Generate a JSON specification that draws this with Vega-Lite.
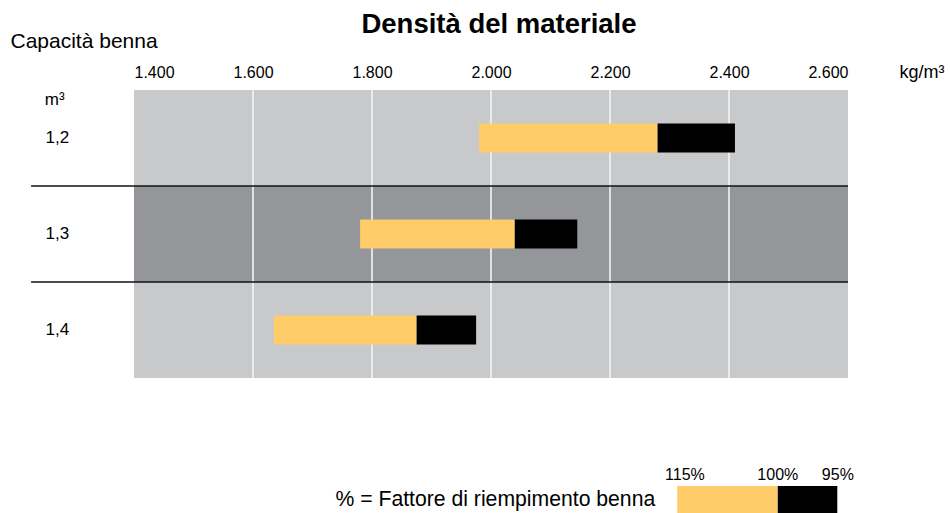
{
  "$schema": "https://vega.github.io/schema/vega-lite/v6.json",
  "padding": {"left": 10, "top": 10, "right": 5, "bottom": 0},
  "background": "white",
  "bounds": "flush",
  "spacing": 108,
  "resolve": {"scale": {"x": "independent", "y": "independent", "color": "independent"}},
  "config": {
    "font": "Liberation Sans",
    "view": {"stroke": null},
    "axisX": {
      "labelFont": "Liberation Sans", "labelFontSize": 16, "labelColor": "#000",
      "labelPadding": 13, "labelBaseline": "alphabetic", "ticks": false, "domain": false, "grid": false,
      "titleX": 765, "titleY": -13, "titleAlign": "left", "titleBaseline": "alphabetic",
      "titleFontSize": 18, "titleFontWeight": "normal", "titleColor": "#000", "titleFont": "Liberation Sans"
    },
    "axisY": {
      "labelFont": "Liberation Sans", "labelFontSize": 17, "labelColor": "#000",
      "labelAlign": "left", "labelBaseline": "alphabetic", "labelPadding": 89, "labelOffset": 5.3,
      "ticks": false, "domain": false, "grid": false,
      "titleAngle": 0, "titleX": -124, "titleY": -43, "titleAlign": "left", "titleBaseline": "alphabetic",
      "titleFontSize": 21, "titleFontWeight": "normal", "titleColor": "#000", "titleFont": "Liberation Sans"
    }
  },
  "datasets": {
    "rows": [
      {"cap": "1,2", "d115": 1980, "d100": 2280, "d95": 2410},
      {"cap": "1,3", "d115": 1780, "d100": 2040, "d95": 2145},
      {"cap": "1,4", "d115": 1635, "d100": 1875, "d95": 1975}
    ]
  },
  "vconcat": [
    {
      "width": 714,
      "height": 288,
      "title": {"text": "Densità del materiale", "font": "Liberation Sans", "fontSize": 27.5, "fontWeight": "bold", "color": "#000", "anchor": "middle", "dx": 8, "baseline": "alphabetic", "offset": -30},
      "data": {"name": "rows"},
      "layer": [
        {
          "mark": {"type": "rect"},
          "encoding": {
            "y": {"field": "cap", "type": "nominal", "title": "Capacità benna", "scale": {"paddingInner": 0, "paddingOuter": 0}},
            "x": {"datum": 1400, "type": "quantitative", "title": "kg/m³",
                  "scale": {"domain": [1400, 2600], "nice": false, "zero": false},
                  "axis": {"orient": "top", "values": [1400, 1600, 1800, 2000, 2200, 2400, 2600], "labelExpr": "replace(format(datum.value, ','), ',', '.')"}},
            "x2": {"datum": 2600},
            "color": {"field": "cap", "type": "nominal", "scale": {"range": ["#c8c9cb", "#959699", "#c8c9cb"]}, "legend": null}
          }
        },
        {
          "data": {"values": [{"v": 1600}, {"v": 1800}, {"v": 2000}, {"v": 2200}, {"v": 2400}]},
          "mark": {"type": "rule", "color": "#f4f4f4", "strokeWidth": 1.6},
          "encoding": {"x": {"field": "v", "type": "quantitative", "title": "kg/m³"}}
        },
        {
          "transform": [{"filter": "datum.cap != '1,2'"}],
          "mark": {"type": "rule", "color": "#111111", "strokeWidth": 1.5, "clip": false},
          "encoding": {
            "y": {"field": "cap", "type": "nominal", "bandPosition": 0, "title": "Capacità benna"},
            "x": {"datum": 1227, "type": "quantitative", "title": "kg/m³"},
            "x2": {"datum": 2600}
          }
        },
        {
          "mark": {"type": "bar", "color": "#fecd6a", "height": {"band": 0.3}},
          "encoding": {
            "y": {"field": "cap", "type": "nominal", "title": "Capacità benna"},
            "x": {"field": "d115", "type": "quantitative", "title": "kg/m³"},
            "x2": {"field": "d100"}
          }
        },
        {
          "mark": {"type": "bar", "color": "#000000", "height": {"band": 0.3}},
          "encoding": {
            "y": {"field": "cap", "type": "nominal", "title": "Capacità benna"},
            "x": {"field": "d100", "type": "quantitative", "title": "kg/m³"},
            "x2": {"field": "d95"}
          }
        },
        {
          "data": {"values": [{"u": "m³"}]},
          "mark": {"type": "text", "align": "left", "baseline": "alphabetic", "dy": 15, "font": "Liberation Sans", "fontSize": 17, "color": "#000"},
          "encoding": {
            "x": {"datum": 1250, "type": "quantitative", "title": "kg/m³"},
            "y": {"datum": "1,2", "type": "nominal", "bandPosition": 0, "title": "Capacità benna"},
            "text": {"field": "u"}
          }
        }
      ]
    },
    {
      "width": 714,
      "height": 28,
      "data": {"values": [{"k": 1}]},
      "layer": [
        {
          "mark": {"type": "rect", "color": "#fecd6a"},
          "encoding": {
            "x": {"datum": 2313, "type": "quantitative", "scale": {"domain": [1400, 2600], "nice": false, "zero": false}, "axis": null},
            "x2": {"datum": 2482},
            "y": {"datum": 0, "type": "quantitative", "scale": {"domain": [0, 1]}, "axis": null},
            "y2": {"datum": 1}
          }
        },
        {
          "mark": {"type": "rect", "color": "#000000"},
          "encoding": {
            "x": {"datum": 2482, "type": "quantitative"},
            "x2": {"datum": 2582},
            "y": {"datum": 0, "type": "quantitative"},
            "y2": {"datum": 1}
          }
        },
        {
          "mark": {"type": "text", "align": "right", "baseline": "middle", "font": "Liberation Sans", "fontSize": 21.2, "color": "#000"},
          "encoding": {
            "x": {"datum": 2276, "type": "quantitative"},
            "y": {"datum": 0.5, "type": "quantitative"},
            "text": {"value": "% = Fattore di riempimento benna"}
          }
        },
        {
          "mark": {"type": "text", "align": "center", "baseline": "alphabetic", "dy": -6, "font": "Liberation Sans", "fontSize": 16, "color": "#000"},
          "encoding": {
            "x": {"datum": 2326, "type": "quantitative"},
            "y": {"datum": 1, "type": "quantitative"},
            "text": {"value": "115%"}
          }
        },
        {
          "mark": {"type": "text", "align": "center", "baseline": "alphabetic", "dy": -6, "font": "Liberation Sans", "fontSize": 16, "color": "#000"},
          "encoding": {
            "x": {"datum": 2482, "type": "quantitative"},
            "y": {"datum": 1, "type": "quantitative"},
            "text": {"value": "100%"}
          }
        },
        {
          "mark": {"type": "text", "align": "center", "baseline": "alphabetic", "dy": -6, "font": "Liberation Sans", "fontSize": 16, "color": "#000"},
          "encoding": {
            "x": {"datum": 2583, "type": "quantitative"},
            "y": {"datum": 1, "type": "quantitative"},
            "text": {"value": "95%"}
          }
        }
      ]
    }
  ]
}
